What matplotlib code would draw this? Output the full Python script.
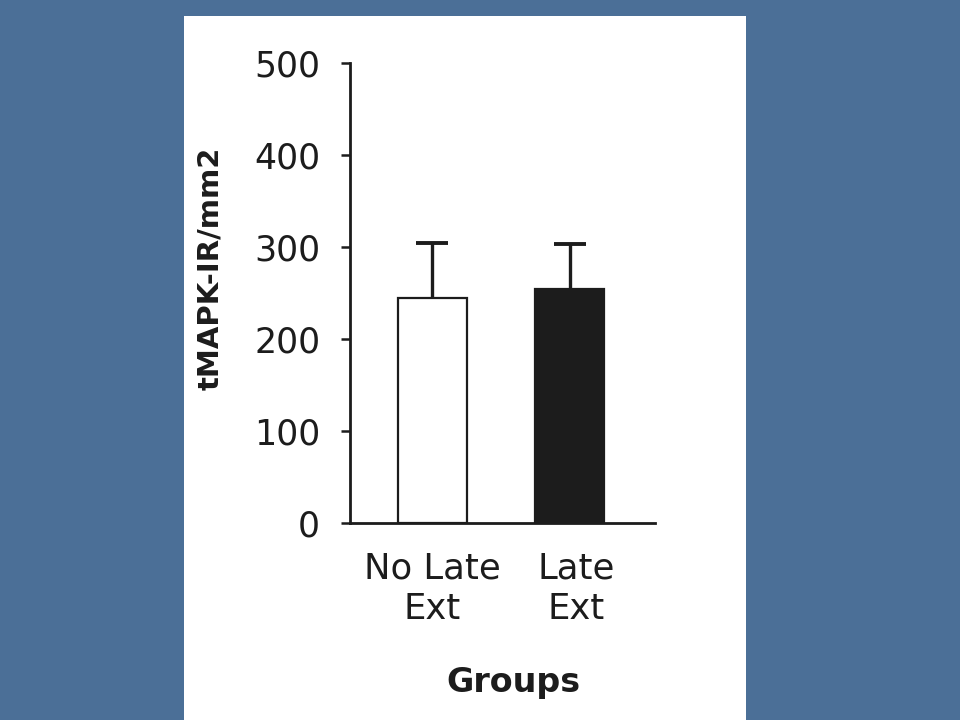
import matplotlib.pyplot as plt
from matplotlib.patches import Rectangle
import matplotlib.transforms as mtransforms

# Data
groups = ['No Late\nExt', 'Late\nExt']
means = [245, 255]
errors = [60, 49]
bar_colors = ['white', '#1c1c1c']

plt.rcParams['font.family'] = ['DejaVu Sans']

fig = plt.figure(figsize=(9.6, 7.2), dpi=100)
fig.patch.set_facecolor('#4b6f97')

# white slide panel behind the chart
fig.add_artist(Rectangle((184 / 960, 0), (746 - 184) / 960, 1 - 16 / 720,
                         transform=fig.transFigure, facecolor='white',
                         edgecolor='none', zorder=-1))

ax = fig.add_axes([350 / 960, 1 - 523.3 / 720, 305 / 960, 460 / 720])
ax.set_facecolor('none')

x = list(range(len(groups)))
ax.bar(x, means, width=0.51, color=bar_colors, edgecolor='#1c1c1c', linewidth=1.6, zorder=2)
eb = ax.errorbar(x, means, yerr=[[0, 0], errors], fmt='none', ecolor='#1c1c1c',
                 elinewidth=2.4, capsize=11.5, capthick=2.8, zorder=3)
# only the upper cap is drawn in the original
eb[1][0].set_visible(False)

ax.set_xlim(-0.602, 1.624)
ax.set_ylim(0, 500)
ax.set_yticks([0, 100, 200, 300, 400, 500])
ax.set_xticks(x)
ax.set_xticklabels(groups, linespacing=1.27)

for side in ['top', 'right']:
    ax.spines[side].set_visible(False)
for side in ['left', 'bottom']:
    ax.spines[side].set_linewidth(2)
    ax.spines[side].set_color('#1c1c1c')

ax.tick_params(axis='y', length=6.5, width=1.8, pad=15, labelsize=25, colors='#1c1c1c')
ax.tick_params(axis='x', length=0, pad=20, labelsize=25.5, colors='#1c1c1c')

# second label sits a little right of its bar in the original
lbl = ax.get_xticklabels()[1]
lbl.set_transform(lbl.get_transform() + mtransforms.ScaledTranslation(7 / 100, 0, fig.dpi_scale_trans))

ax.set_ylabel('tMAPK-IR/mm2', fontsize=21, fontweight='bold', color='#1c1c1c')
ax.yaxis.set_label_coords((224 - 350) / 305, (523.3 - 268) / 460)
ax.set_xlabel('Groups', fontsize=24, fontweight='bold', color='#1c1c1c')
ax.xaxis.set_label_coords(0.536, (523.3 - 666) / 460)

fig.savefig('out.png', dpi=100, facecolor=fig.get_facecolor())
